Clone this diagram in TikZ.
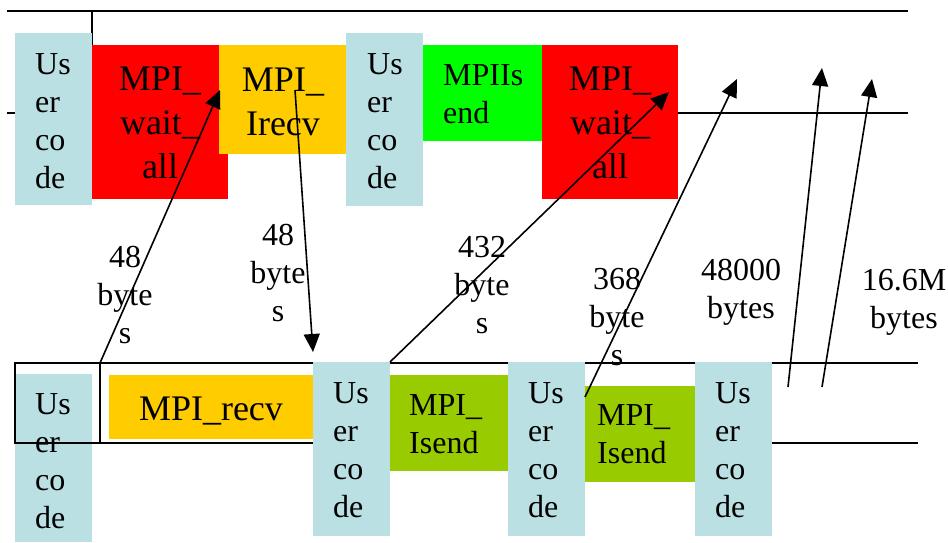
\documentclass[tikz,border=0pt]{standalone}
\usepackage{fontspec}
\setmainfont{Liberation Serif}
\usetikzlibrary{arrows.meta}
\definecolor{ucblue}{RGB}{187,224,227}
\definecolor{mpired}{RGB}{255,0,0}
\definecolor{mpiorange}{RGB}{255,204,0}
\definecolor{mpigreen}{RGB}{0,255,0}
\definecolor{mpiolive}{RGB}{153,204,0}
\begin{document}
\begin{tikzpicture}[x=1pt,y=-1pt,
  box/.style={anchor=north west, inner sep=0pt, outer sep=0pt, draw=none},
  uctxt/.style={inner sep=0pt, font=\fontsize{32}{38}\selectfont, align=left, anchor=base west},
  bigtxt/.style={inner sep=0pt, font=\fontsize{36}{44}\selectfont, align=center, anchor=base},
  lbl/.style={inner sep=0pt, font=\fontsize{32}{38}\selectfont, align=center, anchor=base},
  msg/.style={line width=1.6pt, -{Triangle[length=18pt,width=16pt]}},
  rule/.style={line width=2pt},
  thinrule/.style={line width=1.5pt},
]
\useasboundingbox (0,0) rectangle (948,542);

% top timeline
\coordinate (tl) at (7,11);
\coordinate (tr) at (908,11);
\coordinate (tv) at (92,45);
\coordinate (tvt) at (92,11);
\coordinate (ml) at (7,113);
\coordinate (mr) at (908,113);
\draw[rule] (tl) -- (tr);
\draw[thinrule] (tvt) -- (tv);
\draw[thinrule] (ml) -- (mr);

% top boxes
\node[box, fill=ucblue, minimum width=77pt, minimum height=172pt] (uct1) at (15,33) {};
\node[box, fill=mpired, minimum width=136pt, minimum height=154pt] (wa1) at (92,45) {};
\node[box, fill=mpiorange, minimum width=127pt, minimum height=109pt] (irecv) at (219,45) {};
\node[box, fill=ucblue, minimum width=77pt, minimum height=173pt] (uct2) at (346,33) {};
\node[box, fill=mpigreen, minimum width=119pt, minimum height=96pt] (isendT) at (423,45) {};
\node[box, fill=mpired, minimum width=136pt, minimum height=154pt] (wa2) at (542,45) {};

% bottom timeline lines
\coordinate (bl1) at (100,363);
\coordinate (br1) at (918,363);
\coordinate (bl2) at (100,443);
\coordinate (br2) at (918,443);
\draw[rule] (bl1) -- (br1);
\draw[rule] (bl2) -- (br2);

% bottom boxes
\node[box, fill=ucblue, minimum width=77pt, minimum height=168pt] (ucb1) at (15,374) {};
\coordinate (rectA) at (15,363);
\coordinate (rectB) at (100,443);
\draw[rule] (rectA) rectangle (rectB);
\node[box, fill=mpiorange, minimum width=204pt, minimum height=64pt] (recv) at (109,375) {};
\node[box, fill=ucblue, minimum width=77pt, minimum height=174pt] (ucb2) at (313,362) {};
\node[box, fill=mpiolive, minimum width=118pt, minimum height=96pt] (is1) at (390,375) {};
\node[box, fill=ucblue, minimum width=77pt, minimum height=174pt] (ucb3) at (508,362) {};
\node[box, fill=mpiolive, minimum width=110pt, minimum height=96pt] (is2) at (585,386) {};
\node[box, fill=ucblue, minimum width=77pt, minimum height=174pt] (ucb4) at (695,362) {};

% box texts (anchor = baseline of the last line)
\node[uctxt] (t-uct1) at (35,188) {Us\\er\\co\\de};
\node[uctxt] (t-uct2) at (367,188) {Us\\er\\co\\de};
\node[bigtxt] (t-wa1) at (160,178) {MPI\_\\wait\_\\all};
\node[bigtxt] (t-irecv) at (283,135) {MPI\_\\Irecv};
\node[uctxt] (t-isendT) at (443,123) {MPIIs\\end};
\node[bigtxt] (t-wa2) at (610,178) {MPI\_\\wait\_\\all};
\node[uctxt] (t-ucb1) at (35,528) {Us\\er\\co\\de};
\node[bigtxt] (t-recv) at (211,420) {MPI\_recv};
\node[uctxt] (t-ucb2) at (333,517) {Us\\er\\co\\de};
\node[uctxt] (t-is1) at (409,453) {MPI\_\\Isend};
\node[uctxt] (t-ucb3) at (528,517) {Us\\er\\co\\de};
\node[uctxt] (t-is2) at (597,463) {MPI\_\\Isend};
\node[uctxt] (t-ucb4) at (715,517) {Us\\er\\co\\de};

% message arrows
\coordinate (a1s) at (100,363);
\coordinate (a1e) at (220,90);
\coordinate (a2s) at (295,90);
\coordinate (a2e) at (313,352);
\coordinate (a3s) at (390,362);
\coordinate (a3e) at (669,92);
\coordinate (a4s) at (585,397);
\coordinate (a4e) at (737,79);
\coordinate (a5s) at (788,387);
\coordinate (a5e) at (822,68);
\coordinate (a6s) at (822,387);
\coordinate (a6e) at (872,79);
\draw[msg] (a1s) -- (a1e);
\draw[msg] (a2s) -- (a2e);
\draw[msg] (a3s) -- (a3e);
\draw[msg] (a4s) -- (a4e);
\draw[msg] (a5s) -- (a5e);
\draw[msg] (a6s) -- (a6e);

% labels (anchor = baseline of the last line)
\node[lbl] (l1) at (125,343) {48\\byte\\s};
\node[lbl] (l2) at (278,321) {48\\byte\\s};
\node[lbl] (l3) at (482,333) {432\\byte\\s};
\node[lbl] (l4) at (617,365) {368\\byte\\s};
\node[lbl] (l5) at (741,318) {48000\\bytes};
\node[lbl] (l6) at (904,328) {16.6M\\bytes};
\end{tikzpicture}
\end{document}
